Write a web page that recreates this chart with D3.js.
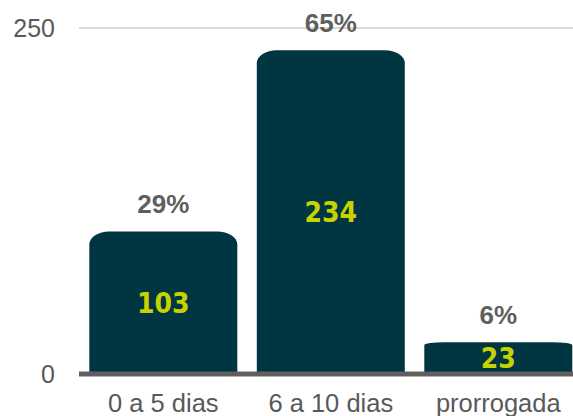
<!DOCTYPE html>
<html><head><meta charset="utf-8">
<script src="https://cdn.jsdelivr.net/npm/d3@7"></script>
<style>html,body{margin:0;padding:0;background:#fff;}svg{display:block;}</style>
</head><body>
<svg id="chart" width="573" height="416"></svg>
<script>
const categories = ["0 a 5 dias", "6 a 10 dias", "prorrogada"];
const values = [103, 234, 23];
const percentLabels = ["29%", "65%", "6%"];
const yTicks = [0, 250];

const W = 573, H = 416;
const svg = d3.select("#chart");
const x = d3.scaleBand().domain(categories).range([79, 582.6]).paddingInner(0.1164).paddingOuter(0.0615);
const y = d3.scaleLinear().domain([0, 250]).range([374, 28]);

// gridline at 250
svg.append("g").selectAll("line").data(yTicks.filter(d => d > 0)).join("line")
  .attr("x1", 79).attr("x2", W).attr("y1", y(250)).attr("y2", y(250))
  .attr("stroke", "#d9d9d9").attr("stroke-width", 2);

// y tick labels
svg.append("g").selectAll("text").data(yTicks).join("text")
  .attr("x", 55).attr("y", d => y(d)).attr("dy", "0.36em")
  .attr("text-anchor", "end")
  .style("font-family", "'Liberation Sans', Arial, sans-serif")
  .style("font-size", "25px").attr("fill", "#595959")
  .text(d => d);

function barPath(d, i) {
  const x0 = x(categories[i]), w = x.bandwidth();
  const top = y(d), bot = y(0);
  const h = bot - top;
  const rx = Math.min(20, w / 2), ry = Math.min(13, h * 0.1);
  return `M${x0},${bot} L${x0},${top + ry} A${rx},${ry} 0 0 1 ${x0 + rx},${top} L${x0 + w - rx},${top} A${rx},${ry} 0 0 1 ${x0 + w},${top + ry} L${x0 + w},${bot} Z`;
}

svg.append("g").selectAll("path").data(values).join("path")
  .attr("d", barPath).attr("fill", "#003641");

// baseline
svg.append("line").attr("x1", 79).attr("x2", W).attr("y1", y(0)).attr("y2", y(0))
  .attr("stroke", "#606060").attr("stroke-width", 5);

// value labels inside bars
svg.append("g").selectAll("text").data(values).join("text")
  .attr("x", (d, i) => x(categories[i]) + x.bandwidth() / 2)
  .attr("y", d => (y(d) + y(0)) / 2).attr("dy", "0.36em")
  .attr("text-anchor", "middle")
  .style("font-family", "'DejaVu Sans Condensed', 'DejaVu Sans', sans-serif")
  .style("font-weight", "bold").style("font-size", "28px")
  .attr("fill", "#c8d200")
  .text(d => d);

// percent labels above bars
svg.append("g").selectAll("text").data(values).join("text")
  .attr("x", (d, i) => x(categories[i]) + x.bandwidth() / 2)
  .attr("y", d => y(d) - 18)
  .attr("text-anchor", "middle")
  .style("font-family", "'Liberation Sans', Arial, sans-serif")
  .style("font-weight", "bold").style("font-size", "26px")
  .attr("fill", "#5f5f5f")
  .text((d, i) => percentLabels[i]);

// category labels
svg.append("g").selectAll("text").data(categories).join("text")
  .attr("x", d => x(d) + x.bandwidth() / 2)
  .attr("y", 412)
  .attr("text-anchor", "middle")
  .style("font-family", "'Liberation Sans', Arial, sans-serif")
  .style("font-size", "25.5px").attr("fill", "#595959")
  .text(d => d);
</script>
</body></html>
